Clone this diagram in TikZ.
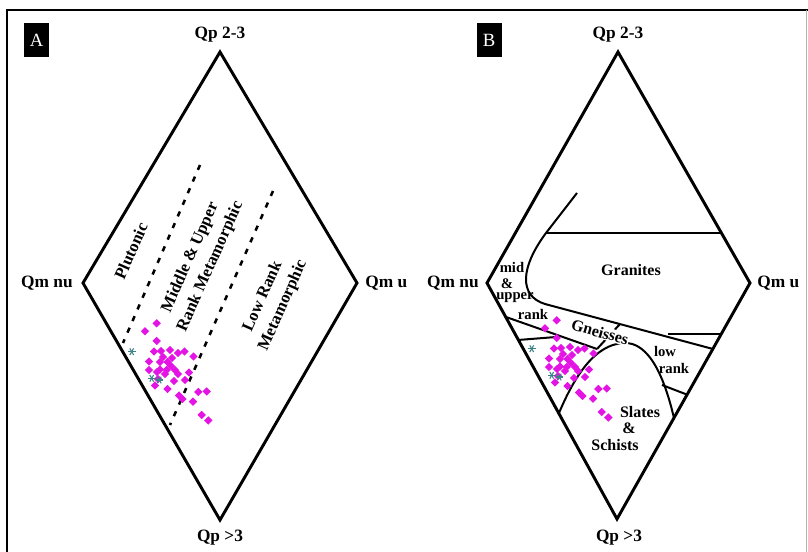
\documentclass[tikz,border=0pt]{standalone}
\usepackage{fontspec}
\setmainfont{Liberation Serif}
\definecolor{ptmag}{RGB}{228,20,228}
\definecolor{startl}{RGB}{60,130,135}
\begin{document}
\begin{tikzpicture}[x=0.75pt,y=-0.75pt,
  edge/.style={line width=2.2pt,line join=miter},
  bline/.style={line width=1.5pt,line join=round},
  dline/.style={line width=1.9pt,dash pattern=on 4pt off 5.5pt},
  corner/.style={inner sep=0pt,font=\bfseries\fontsize{13}{15}\selectfont},
  field/.style={inner sep=0pt,align=center,font=\bfseries\fontsize{12.5}{16.5}\selectfont},
  bfield/.style={inner sep=0pt,align=center,font=\bfseries\fontsize{12}{13}\selectfont},
  smalllab/.style={inner sep=0pt,font=\bfseries\fontsize{11}{11}\selectfont},
  tag/.style={fill=black,text=white,inner sep=0pt,minimum width=18.75pt,minimum height=25pt,font=\fontsize{14}{14}\selectfont},
  mk/.style={fill=ptmag},
  st/.style={draw=startl,line width=0.8pt}]
\useasboundingbox (0,0) rectangle (808,552);
% frame
\draw[line width=2.2pt] (7,552) -- (7,10) -- (808,10);
\draw[line width=0.6pt,gray!60] (806.5,10) -- (806.5,552);

% ---------------- Panel A ----------------
\node[tag] (tagA) at (36.5,40) {A};
\coordinate (At) at (220,52);
\coordinate (Ar) at (357,283);
\coordinate (Ab) at (220,520);
\coordinate (Al) at (83,283);
\draw[edge] (At) -- (Ar) -- (Ab) -- (Al) -- cycle;
\node[corner] (Atl) at (220,35) {Qp 2-3};
\node[corner] (Abl) at (220,538) {Qp >3};
\node[corner,anchor=east] (All) at (73,283) {Qm nu};
\node[corner,anchor=west] (Arl) at (365,283) {Qm u};
\coordinate (d1a) at (200,165);
\coordinate (d1b) at (123,343);
\coordinate (d2a) at (273,191);
\coordinate (d2b) at (170,425);
\draw[dline] (d1a) -- (d1b);
\draw[dline] (d2a) -- (d2b);
\node[field,rotate=66] (plu) at (131,251) {Plutonic};
\node[field,rotate=66] (mum) at (200.5,262) {Middle \& Upper\\Rank Metamorphic};
\node[field,rotate=66] (lrm) at (273,301) {Low Rank\\Metamorphic};

\newcommand{\datapts}{%
  \foreach \px/\py in {156.7/323.3,145/331.3,156.7/341,154/351.5,161/351,170/350,178/353,184.5/351.5,193.5/356.5,
     149/361.5,160/362,167.5/362,171/366,149/370,160/369.5,166.7/370,175/370,157/372,165/374,178/374,189/372.5,
     163/357,172/358,158/379,174/381,185/380,
     155/385.5,167.5/389,179/395.5,182.5/399,198.3/392,206.7/391.5,193/401.7,201.7/415,208.3/420.5}
  {\fill[mk] (\px,\py) +(0,-4.2) -- +(4.2,0) -- +(0,4.2) -- +(-4.2,0) -- cycle;}%
  \foreach \sx/\sy in {131.7/351.7,151.7/378.3,159.3/380}
  {\foreach \a in {0,60,120} {\draw[st] (\sx,\sy) +(\a:3.8) -- +(\a+180:3.8);}}%
}
\datapts

% ---------------- Panel B ----------------
\node[tag] (tagB) at (489,40) {B};
\coordinate (Bt) at (618,52);
\coordinate (Br) at (750,283);
\coordinate (Bb) at (617,519);
\coordinate (Bl) at (487,283);
\draw[edge] (Bt) -- (Br) -- (Bb) -- (Bl) -- cycle;
\node[corner] (Btl) at (618,35) {Qp 2-3};
\node[corner] (Bbl) at (619,538) {Qp >3};
\node[corner,anchor=east] (Bll) at (479,283) {Qm nu};
\node[corner,anchor=west] (Brl) at (757,283) {Qm u};

% field boundaries
\coordinate (c0) at (577,193);
\coordinate (c1) at (546,233);
\coordinate (c2) at (545,304);
\coordinate (c3) at (713,349);
\draw[bline] (c0) -- (c1) .. controls (520,268) and (519,296) .. (c2) -- (c3);
\coordinate (g1) at (720,233);
\draw[bline] (c1) -- (g1);
\coordinate (h1) at (668,334);
\coordinate (h2) at (721,334);
\draw[bline] (h1) -- (h2);
\coordinate (a0) at (559,413);
\coordinate (a1) at (623,343);
\coordinate (a2) at (674,418);
\draw[bline] (a0) .. controls (575,375) and (595,345) .. (a1) .. controls (650,341) and (665,380) .. (a2);
\coordinate (t1) at (620,324);
\coordinate (t2) at (597,349);
\draw[bline] (t1) -- (t2);
\coordinate (m1) at (506,317);
\draw[bline] (m1) -- (t2);
\coordinate (s1) at (518,340);
\coordinate (s2) at (556,337);
\draw[bline] (s1) -- (s2);
\coordinate (l1) at (662,385);
\coordinate (l2) at (688,395);
\draw[bline] (l1) -- (l2);

\node[bfield] (gra) at (631,270) {Granites};
\node[bfield,rotate=-16,fill=white,inner sep=0.6pt] (gne) at (600,332) {Gneisses};
\node[smalllab] (mid) at (512,267) {mid};
\node[smalllab] (amp) at (507,284) {\&};
\node[smalllab] (upp) at (515,298) {upper};
\node[smalllab] (rnk) at (533,314) {rank};
\node[smalllab] (low) at (665,351) {low};
\node[smalllab] (rnk2) at (674,368) {rank};
\node[bfield] (sla) at (640,412) {Slates};
\node[bfield] (sam) at (629,428) {\&};
\node[bfield] (sch) at (615,445) {Schists};

\begin{scope}[shift={(400,-3)}]
\datapts
\end{scope}
\end{tikzpicture}
\end{document}
